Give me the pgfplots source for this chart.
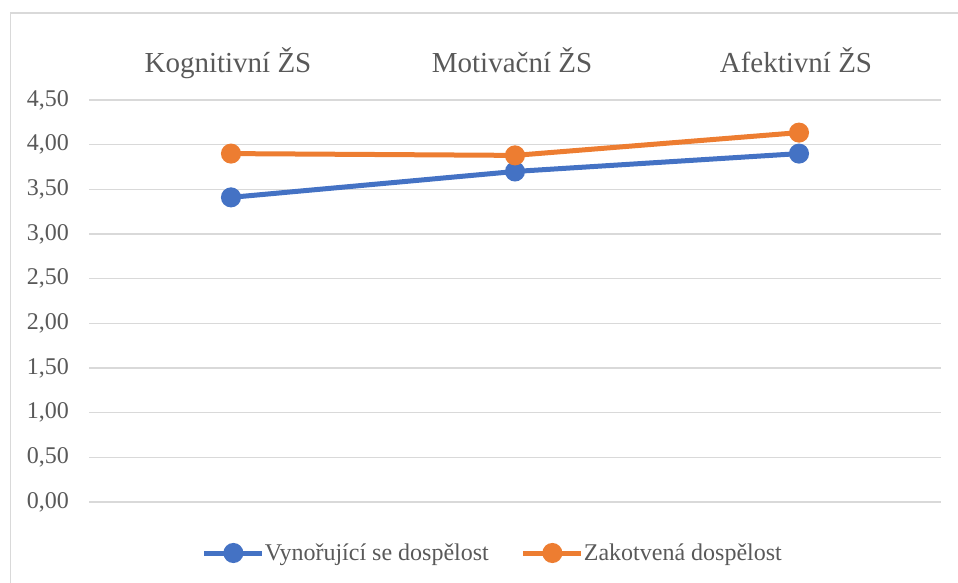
\documentclass[border=0pt]{standalone}
\usepackage{fontspec}
\setmainfont{Liberation Serif}
\usepackage{pgfplots}
\pgfplotsset{compat=1.18}
\definecolor{cblue}{HTML}{4472C4}
\definecolor{corange}{HTML}{ED7D31}
\definecolor{ctext}{HTML}{595959}
\definecolor{cgrid}{HTML}{D9D9D9}
\begin{document}
\begin{tikzpicture}[x=1pt,y=1pt,font=\rmfamily]
\useasboundingbox (0,0) rectangle (958,583);
\draw[cgrid, line width=1.5pt] (10.5,0) -- (10.5,570) -- (958,570);
\begin{axis}[
  at={(89pt,81pt)}, anchor=south west,
  scale only axis, width=852pt, height=402pt,
  xmin=-0.5, xmax=2.5, ymin=0, ymax=4.5,
  xtick={0,1,2},
  xticklabels={Kognitivní ŽS, Motivační ŽS, Afektivní ŽS},
  xticklabel pos=upper,
  xticklabel style={anchor=base, inner sep=0pt, yshift=27pt, xshift=-3pt, font=\rmfamily\fontsize{29}{33}\selectfont, text=ctext},
  ytick={0,0.5,...,4.5},
  yticklabel style={anchor=east, inner sep=0pt, xshift=-20pt, font=\rmfamily\fontsize{24}{28}\selectfont, text=ctext,
    /pgf/number format/.cd, fixed, fixed zerofill, precision=2, use comma, assume math mode=true},
  major tick length=0pt,
  axis line style={draw=none},
  ymajorgrids=true,
  major grid style={cgrid, line width=1.5pt},
  clip=false,
  legend columns=2,
  legend style={at={(0.474,-0.1269)}, anchor=center, draw=none, fill=none,
    font=\rmfamily\fontsize{24}{28}\selectfont, text=ctext,
    /tikz/every even column/.append style={column sep=30pt},
    /tikz/every odd column/.append style={column sep=-2pt},
    inner sep=0pt},
  legend cell align=left,
  legend image code/.code={\draw[mark repeat=2, mark phase=2, #1] plot coordinates {(0pt,0pt) (29pt,0pt) (58pt,0pt)};},
]
\addplot[cblue, line width=5pt, mark=*, mark size=7.5pt, mark options={solid}] coordinates {(0,3.41) (1,3.70) (2,3.90)};
\addlegendentry{Vynořující se dospělost}
\addplot[corange, line width=5pt, mark=*, mark size=7.5pt, mark options={solid}] coordinates {(0,3.90) (1,3.88) (2,4.135)};
\addlegendentry{Zakotvená dospělost}
\end{axis}
\end{tikzpicture}
\end{document}
